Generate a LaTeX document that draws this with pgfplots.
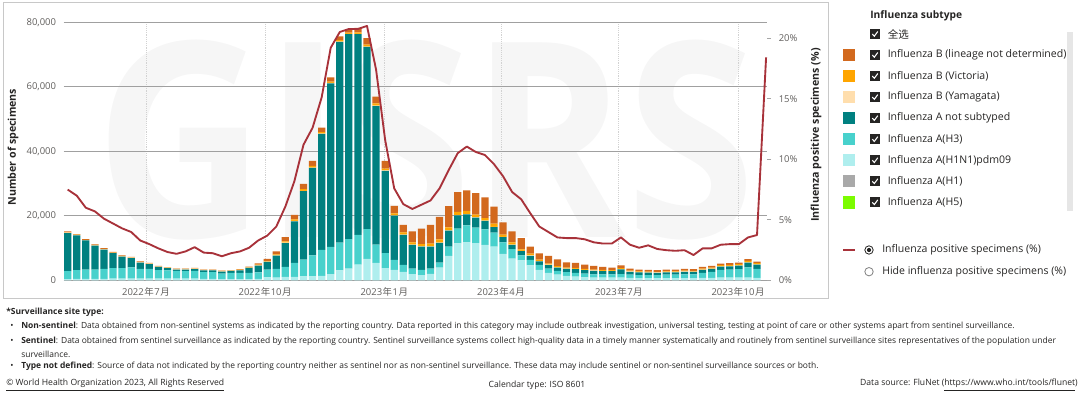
\documentclass[border=0pt]{standalone}
\usepackage{pgfplots}
\pgfplotsset{compat=1.18}
\usepackage{pgfplotstable}
\usepackage{fontspec}
\setmainfont{Open Sans}
\newfontfamily\cjk{Noto Sans CJK SC}

\definecolor{cBund}{HTML}{D2691E}
\definecolor{cBvic}{HTML}{FFA500}
\definecolor{cByam}{HTML}{FFDEAD}
\definecolor{cAns}{HTML}{008080}
\definecolor{cH3}{HTML}{48D1CC}
\definecolor{cHpdm}{HTML}{AFEEEE}
\definecolor{cH1}{HTML}{A9A9A9}
\definecolor{cH5}{HTML}{7CFC00}
\definecolor{cLine}{HTML}{A8323A}
\definecolor{tickc}{HTML}{605E5C}
\definecolor{gridc}{HTML}{A0A0A0}
\definecolor{framec}{HTML}{C8C8C8}
\definecolor{chk}{HTML}{252423}
\definecolor{scrollc}{HTML}{E6E6E6}
\definecolor{txt}{HTML}{252423}
\definecolor{wm}{HTML}{F6F6F6}

% weekly specimens: L = A(H1N1)pdm09, H = A(H3), T = A not subtyped, Y = B Yamagata, V = B Victoria, U = B lineage not determined
\pgfplotstableread{
x L H T Y V U
0 400 2500 11800 100 100 300
1 500 2700 10800 100 100 200
2 500 2900 9000 100 100 200
3 500 2900 7400 100 100 200
4 500 3100 6000 100 100 200
5 600 3200 4650 100 100 200
6 600 3200 3600 100 100 200
7 600 3500 2800 150 100 150
8 600 3000 1950 150 100 150
9 600 3000 1450 150 100 150
10 600 2600 1000 100 100 100
11 600 2500 700 100 100 100
12 600 2400 400 100 100 100
13 600 2300 500 100 100 100
14 600 2400 500 150 100 150
15 500 2100 500 100 100 100
16 500 2100 500 100 100 100
17 400 1750 600 100 100 100
18 400 1950 600 100 100 100
19 400 1950 800 100 150 150
20 400 1950 1550 100 150 150
21 500 2000 2100 100 200 400
22 1000 2400 2350 100 250 600
23 900 2700 4100 100 300 950
24 1100 3100 7400 100 400 1300
25 1100 4350 12900 100 450 1400
26 1300 5200 21200 100 500 1600
27 1300 6500 27100 100 500 1600
28 1400 8100 35900 100 500 1400
29 2000 8400 50700 100 400 1300
30 3100 8650 62200 100 400 1200
31 3700 9150 63450 100 400 1100
32 4900 9200 62200 100 500 1400
33 6700 9250 56450 100 600 2000
34 5450 5650 42950 100 700 2100
35 3800 4650 25550 100 600 2400
36 3300 3100 13700 100 600 2300
37 2700 2150 9250 100 700 2300
38 2000 1700 7300 100 700 3450
39 1650 1650 7200 100 700 4750
40 2050 1650 6800 100 800 5800
41 4000 1550 6100 100 1000 7000
42 7600 2900 4950 100 900 6600
43 11500 4550 4100 100 1000 6100
44 11850 5250 3400 100 1000 6300
45 11550 4850 3100 100 800 6700
46 11000 4850 2600 100 800 6400
47 10500 4350 1650 100 1000 5300
48 8250 3600 1550 100 700 3800
49 6800 2900 1350 100 700 3350
50 6200 1550 1350 100 450 3450
51 4650 1750 1250 100 550 2200
52 3300 1550 1050 100 450 1950
53 2400 1300 1100 100 350 2350
54 1800 1200 1000 100 350 2100
55 1400 1200 1000 100 300 1650
56 1200 1200 1100 100 300 1550
57 1000 1100 1100 100 300 1350
58 900 1000 1100 100 300 1100
59 900 1000 1000 100 300 900
60 900 1000 1000 100 250 750
61 900 1100 1450 100 300 800
62 800 1000 900 100 250 650
63 700 1000 800 100 200 600
64 700 1000 750 100 200 550
65 700 1000 700 100 200 500
66 700 1100 750 100 200 550
67 700 1100 750 100 200 550
68 700 1200 800 100 250 550
69 700 1200 750 100 250 500
70 800 1600 900 100 300 500
71 800 1900 900 100 300 500
72 900 2400 1000 100 350 500
73 900 2500 1000 100 350 500
74 900 2600 1100 100 350 500
75 900 3200 1400 100 450 550
76 800 2800 1300 100 400 450
}\bars

% influenza positive specimens (%)
\pgfplotstableread{
x p
0 7.5
1 7.0
2 6.0
3 5.7
4 5.1
5 4.7
6 4.3
7 4.0
8 3.3
9 3.0
10 2.65
11 2.35
12 2.2
13 2.4
14 2.75
15 2.3
16 2.25
17 2.0
18 2.25
19 2.4
20 2.7
21 3.3
22 3.7
23 4.45
24 6.1
25 8.2
26 11.2
27 12.6
28 15.1
29 19.2
30 20.5
31 20.75
32 20.75
33 21.0
34 17.4
35 11.6
36 7.6
37 6.3
38 5.9
39 6.25
40 6.6
41 7.6
42 9.1
43 10.5
44 11.05
45 10.6
46 10.35
47 9.6
48 8.6
49 7.3
50 6.7
51 5.55
52 4.45
53 4.0
54 3.55
55 3.5
56 3.5
57 3.4
58 3.15
59 3.05
60 3.05
61 3.55
62 2.95
63 2.7
64 2.9
65 2.6
66 2.5
67 2.45
68 2.5
69 2.1
70 2.65
71 2.65
72 2.95
73 3.0
74 3.0
75 3.55
76 3.75
77 18.4
}\pct

\newcommand{\ym}[2]{\mbox{#1\kern0.4pt{\cjk 年}\kern0.4pt#2\kern0.4pt{\cjk 月}}}

\begin{document}
\begin{tikzpicture}
\path[use as bounding box] (0,0) rectangle (810pt,296.25pt);
\begin{scope}[shift={(0pt,296.25pt)}, x=0.75pt, y=-0.75pt]
  \draw[draw=framec, line width=0.75pt] (3,3) rectangle (828,299);
  \node[anchor=south west, inner sep=0pt, text=wm] at (95,240)
    {\resizebox{495pt}{148pt}{\bfseries GISRS}};
\end{scope}

\begin{axis}[
  at={(47.7pt,85.875pt)}, anchor=south west, scale only axis,
  width=527.2pt, height=193.65pt,
  xmin=-0.45, xmax=77.05, ymin=0, ymax=80000,
  ybar stacked, bar width=0.8,
  axis line style={draw=none},
  major tick length=0pt,
  scaled y ticks=false,
  xtick={8.63,21.77,34.91,47.77,60.77,73.91},
  xticklabels={\ym{2022}{7},\ym{2022}{10},\ym{2023}{1},\ym{2023}{4},\ym{2023}{7},\ym{2023}{10}},
  xticklabel style={font=\fontsize{7.1}{8}\selectfont, text=tickc, anchor=center, inner sep=0pt, yshift=-8.6pt},
  xmajorgrids, x grid style={densely dotted, draw=gray!35, line width=0.6pt},
  ytick={0,20000,40000,60000,80000},
  yticklabels={0,{20,000},{40,000},{60,000},{80,000}},
  yticklabel style={font=\fontsize{7.1}{8}\selectfont, text=tickc, anchor=east, inner sep=0pt, xshift=-5.5pt},
  ymajorgrids, y grid style={draw=gridc, line width=0.75pt},
]
\addplot[fill=cHpdm, draw=none] table[x=x, y=L] {\bars};
\addplot[fill=cH3, draw=none] table[x=x, y=H] {\bars};
\addplot[fill=cAns, draw=none] table[x=x, y=T] {\bars};
\addplot[fill=cByam, draw=none] table[x=x, y=Y] {\bars};
\addplot[fill=cBvic, draw=none] table[x=x, y=V] {\bars};
\addplot[fill=cBund, draw=none] table[x=x, y=U] {\bars};
\end{axis}

\begin{axis}[
  at={(47.7pt,85.875pt)}, anchor=south west, scale only axis,
  width=527.2pt, height=193.65pt,
  xmin=-0.45, xmax=77.05, ymin=0, ymax=21.3,
  axis x line=none, xtick=\empty,
  axis y line*=right,
  y axis line style={draw=none},
  ytick={0,5,10,15,20},
  yticklabels={0\%,5\%,10\%,15\%,20\%},
  ytick style={draw=gray!70, line width=0.6pt},
  tick align=outside, major tick length=3.5pt,
  yticklabel style={font=\fontsize{7.1}{8}\selectfont, text=tickc, anchor=west, inner sep=0pt, xshift=5.5pt},
  clip=false,
]
\addplot[cLine, line width=1.4pt, line join=round] table[x=x, y=p] {\pct};
\end{axis}

\begin{scope}[shift={(0pt,296.25pt)}, x=0.75pt, y=-0.75pt]
  % axis titles
  \node[rotate=90, font=\bfseries\fontsize{8}{9}\selectfont, text=txt] at (13,147) {Number of specimens};
  \node[rotate=90, font=\bfseries\fontsize{8}{9}\selectfont, text=txt] at (816,135) {Influenza positive specimens (\%)};
  % legend
  \node[anchor=west, inner sep=0pt, font=\bfseries\fontsize{7.7}{9}\selectfont, text=txt] at (870,15.5) {Influenza subtype};
  \fill[chk] (870,29) rectangle (880,39);
  \draw[white, line width=0.8pt] (872.3,34) -- (874.3,36.2) -- (877.8,31.5);
  \node[anchor=west, inner sep=0pt, font=\cjk\fontsize{7.9}{9}\selectfont, text=txt] at (887.5,34) {全选};
  \fill[scrollc] (1066.5,32) rectangle (1073,211);
  \foreach \c/\t [count=\i from 0, evaluate=\i as \y using 55+21.05*\i] in
     {cBund/Influenza B (lineage not determined), cBvic/Influenza B (Victoria), cByam/Influenza B (Yamagata),
      cAns/Influenza A not subtyped, cH3/Influenza A(H3), cHpdm/Influenza A(H1N1)pdm09,
      cH1/Influenza A(H1), cH5/Influenza A(H5)} {
    \fill[\c] (843,\y-6.2) rectangle (855.3,\y+6.2);
    \fill[chk] (870,\y-5) rectangle (880,\y+5);
    \draw[white, line width=0.8pt] (872.3,\y) -- (874.3,\y+2.2) -- (877.8,\y-2.5);
    \node[anchor=west, inner sep=0pt, font=\fontsize{7.9}{9}\selectfont, text=txt] at (887.5,\y) {\t};
  }
  \draw[cLine, line width=1.4pt] (843,250) -- (855,250);
  \draw[chk, line width=0.6pt] (869,250) circle (4.2);
  \fill[chk] (869,250) circle (2.1);
  \node[anchor=west, inner sep=0pt, font=\fontsize{7.9}{9}\selectfont, text=txt] at (882,250) {Influenza positive specimens (\%)};
  \draw[gray, line width=0.6pt] (869,271.7) circle (4.2);
  \node[anchor=west, inner sep=0pt, font=\fontsize{7.9}{9}\selectfont, text=txt] at (882,271.7) {Hide influenza positive specimens (\%)};
  % footnotes
  \begin{scope}[every node/.style={anchor=west, inner sep=0pt, font=\fontsize{6.35}{7.5}\selectfont, text=txt}]
  \node at (6,312) {\bfseries *Surveillance site type:};
  \node at (10,326) {•};
  \node at (21,326) {\textbf{Non-sentinel}: Data obtained from non-sentinel systems as indicated by the reporting country. Data reported in this category may include outbreak investigation, universal testing, testing at point of care or other systems apart from sentinel surveillance.};
  \node at (10,341) {•};
  \node at (21,341) {\textbf{Sentinel}: Data obtained from sentinel surveillance as indicated by the reporting country. Sentinel surveillance systems collect high-quality data in a timely manner systematically and routinely from sentinel surveillance sites representatives of the population under};
  \node at (21,354) {surveillance.};
  \node at (10,366) {•};
  \node at (21,366) {\textbf{Type not defined}: Source of data not indicated by the reporting country neither as sentinel nor as non-sentinel surveillance. These data may include sentinel or non-sentinel surveillance sources or both.};
  \node[font=\fontsize{6.45}{7.5}\selectfont] at (6,385) {\underline{© World Health Organization 2023, All Rights Reserved}};
  \node[anchor=center, font=\fontsize{6.45}{7.5}\selectfont] at (537,385) {Calendar type: ISO 8601};
  \node[anchor=east, font=\fontsize{6.45}{7.5}\selectfont] at (1078,385) {Data source: FluNet (\underline{https://www.who.int/tools/flunet})};
  \end{scope}
\end{scope}
\end{tikzpicture}
\end{document}
